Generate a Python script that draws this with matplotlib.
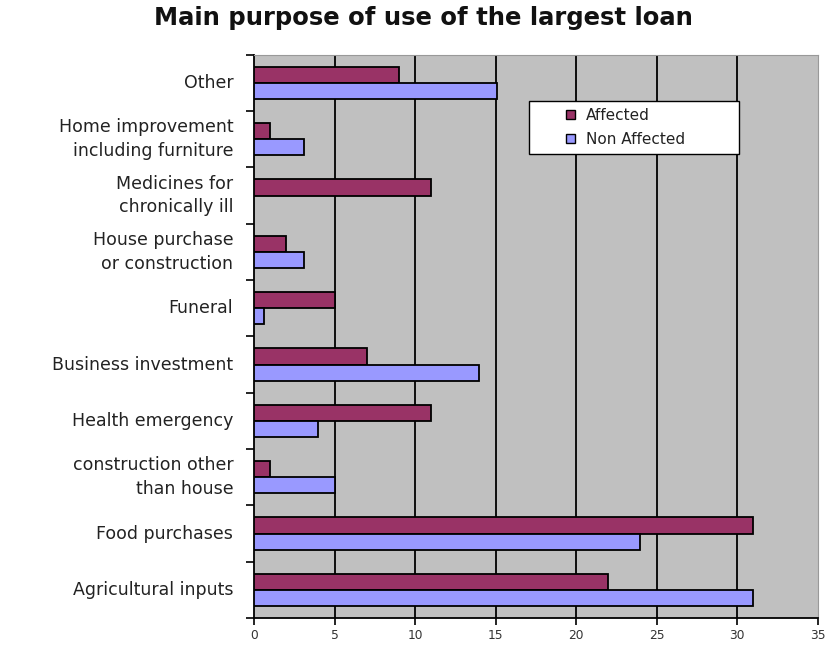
import numpy as np
import matplotlib.pyplot as plt
from matplotlib.patches import Patch, Rectangle
from matplotlib.legend_handler import HandlerPatch

plt.rcParams['font.family'] = ['DejaVu Sans']

# categories listed bottom to top
categories = ['Agricultural inputs', 'Food purchases', 'construction other\nthan house',
              'Health emergency', 'Business investment', 'Funeral',
              'House purchase\nor construction', 'Medicines for\nchronically ill',
              'Home improvement\nincluding furniture', 'Other']
affected = [22, 31, 1, 11, 7, 5, 2, 11, 1, 9]
non_affected = [31, 24, 5, 4, 14, 0.6, 3.1, 0, 3.1, 15.1]
x_ticks = [0, 5, 10, 15, 20, 25, 30, 35]

aff_color = '#993366'
non_color = '#9999FF'


def small_square(legend, orig_handle, xdescent, ydescent, width, height, fontsize):
    # little square pushed to the right end of the handle box
    s = 0.58 * fontsize
    return Rectangle((-xdescent + width - s, -ydescent + (height - s) / 2), s, s)


fig = plt.figure(figsize=(8.25, 6.46), dpi=100)
ax = fig.add_axes([0.308, 0.0433, 0.683, 0.872])

y = np.arange(len(categories))
h = 0.285
ax.barh(y + h / 2, affected, height=h, color=aff_color, edgecolor='black', linewidth=1.3, zorder=3)
nz = [v if v > 0 else np.nan for v in non_affected]
ax.barh(y - h / 2, nz, height=h, color=non_color, edgecolor='black', linewidth=1.3, zorder=3)

ax.set_facecolor('#C0C0C0')
ax.set_xlim(0, 35)
ax.set_ylim(-0.5, len(categories) - 0.5)
ax.set_xticks(x_ticks)
ax.set_xticklabels([str(t) for t in x_ticks], fontsize=8.8, color='#333333')
for t in x_ticks[1:-1]:
    ax.axvline(t, color='black', linewidth=1.3, zorder=1)

# category labels sit between boundary ticks
ax.set_yticks(np.arange(len(categories) + 1) - 0.5)
ax.set_yticklabels([])
ax.tick_params(axis='y', length=6, width=1.2, direction='out')
ax.tick_params(axis='x', length=5, width=1.2, direction='out', pad=3)
for i, name in enumerate(categories):
    ax.text(-1.3, i, name, ha='right', va='center', fontsize=12.5, color='#222222',
            linespacing=1.4, transform=ax.transData)

for side in ['left', 'bottom']:
    ax.spines[side].set_color('black')
    ax.spines[side].set_linewidth(1.3)
for side in ['top', 'right']:
    ax.spines[side].set_color('#999999')
    ax.spines[side].set_linewidth(0.8)

handles = [Patch(facecolor=aff_color, edgecolor='black', label='Affected'),
           Patch(facecolor=non_color, edgecolor='black', label='Non Affected')]
leg = ax.legend(handles=handles, loc='upper left', bbox_to_anchor=(0.487, 0.918, 0.373, 0.0),
                mode='expand', fontsize=11, handlelength=2.6, handleheight=0.6,
                handletextpad=0.7, borderpad=0.45, labelspacing=0.6, fancybox=False,
                framealpha=1, borderaxespad=0,
                handler_map={Patch: HandlerPatch(patch_func=small_square)})
leg.get_frame().set_edgecolor('black')
leg.get_frame().set_linewidth(1.0)
for t in leg.get_texts():
    t.set_color('#222222')

fig.text(0.513, 0.972, 'Main purpose of use of the largest loan', ha='center', va='center',
         fontsize=17.5, fontweight='bold', color='#111111')

fig.savefig('out.png', dpi=100)
